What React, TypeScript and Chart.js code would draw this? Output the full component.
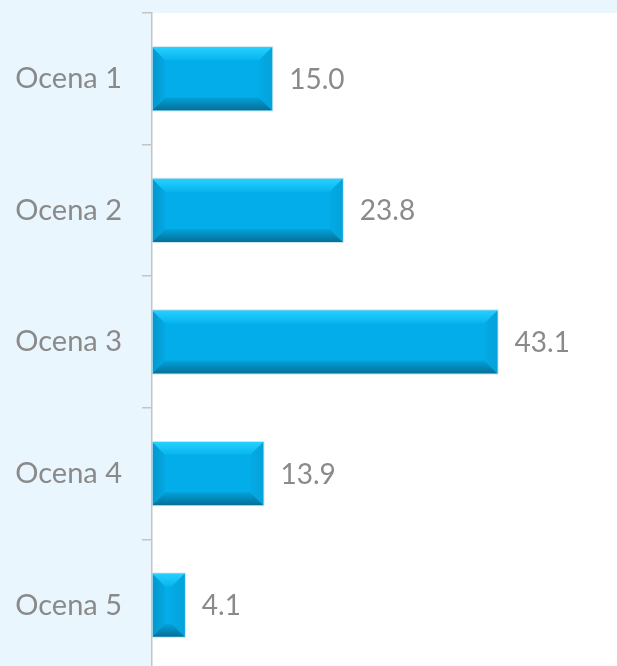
import React, { useEffect, useRef } from "react";
import { Chart, registerables } from "chart.js";

Chart.register(...registerables);

const categories = ["Ocena 1", "Ocena 2", "Ocena 3", "Ocena 4", "Ocena 5"];
const values = [15.0, 23.8, 43.1, 13.9, 4.1];

const FONT = "Lato, 'Noto Sans', sans-serif";
const GRAY = "#8a8a8a";

const bgPlugin = {
  id: "bgPlugin",
  beforeDraw(chart: any) {
    const { ctx, chartArea, width, height } = chart;
    ctx.save();
    ctx.fillStyle = "#EAF6FD";
    ctx.fillRect(0, 0, width, height);
    ctx.fillStyle = "#ffffff";
    ctx.fillRect(chartArea.left, chartArea.top, chartArea.right - chartArea.left, chartArea.bottom - chartArea.top);
    ctx.restore();
  },
};

const bevelPlugin = {
  id: "bevelPlugin",
  afterDatasetsDraw(chart: any) {
    const { ctx } = chart;
    const meta = chart.getDatasetMeta(0);
    ctx.save();
    meta.data.forEach((bar: any, i: number) => {
      const L = Math.min(bar.base, bar.x);
      const R = Math.max(bar.base, bar.x);
      const T = bar.y - bar.height / 2;
      const B = bar.y + bar.height / 2;
      const w = R - L;
      const b = Math.min(13, w / 2, bar.height / 2);
      const poly = (pts: number[][], fill: any) => {
        ctx.beginPath();
        ctx.moveTo(pts[0][0], pts[0][1]);
        for (let k = 1; k < pts.length; k++) ctx.lineTo(pts[k][0], pts[k][1]);
        ctx.closePath();
        ctx.fillStyle = fill;
        ctx.fill();
      };
      poly([[L, T], [R, T], [R, B], [L, B]], "#02ADEA");
      const gt = ctx.createLinearGradient(0, T, 0, T + b);
      gt.addColorStop(0, "#26D0FF");
      gt.addColorStop(1, "#06B4EE");
      poly([[L, T], [R, T], [R - b, T + b], [L + b, T + b]], gt);
      const gb = ctx.createLinearGradient(0, B - b, 0, B);
      gb.addColorStop(0, "#03A2DA");
      gb.addColorStop(1, "#056F96");
      poly([[L, B], [R, B], [R - b, B - b], [L + b, B - b]], gb);
      const gl = ctx.createLinearGradient(L, 0, L + b, 0);
      gl.addColorStop(0, "#0397CD");
      gl.addColorStop(1, "#04A8E2");
      poly([[L, T], [L + b, T + b], [L + b, B - b], [L, B]], gl);
      const gr = ctx.createLinearGradient(R - b, 0, R, 0);
      gr.addColorStop(0, "#04AAE4");
      gr.addColorStop(1, "#05A2DA");
      poly([[R, T], [R - b, T + b], [R - b, B - b], [R, B]], gr);
      ctx.strokeStyle = "rgba(190,220,235,0.8)";
      ctx.lineWidth = 1;
      ctx.strokeRect(L + 0.5, T - 0.5, w, bar.height + 1);
      ctx.fillStyle = GRAY;
      ctx.font = `28px ${FONT}`;
      ctx.textAlign = "left";
      ctx.textBaseline = "middle";
      ctx.fillText(values[i].toFixed(1), R + 17, bar.y + 1);
    });
    ctx.restore();
  },
};

export default function App() {
  const ref = useRef<HTMLCanvasElement>(null);
  useEffect(() => {
    if (!ref.current) return;
    const chart = new Chart(ref.current, {
      type: "bar",
      data: {
        labels: categories,
        datasets: [
          {
            data: values,
            backgroundColor: "#02ADEA",
            borderWidth: 0,
            categoryPercentage: 1,
            barPercentage: 0.48,
          },
        ],
      },
      options: {
        indexAxis: "y",
        animation: false,
        responsive: false,
        devicePixelRatio: 1,
        layout: { padding: { top: 13, bottom: 9, right: 0, left: 0 } },
        plugins: { legend: { display: false }, tooltip: { enabled: false } },
        scales: {
          x: { display: false, min: 0, max: 58 },
          y: {
            afterFit: (scale: any) => {
              scale.width = 152;
              scale.paddingTop = 0;
              scale.paddingBottom = 0;
            },
            border: { display: true, color: "#C4C4C4", width: 1.5 },
            grid: {
              display: true,
              drawOnChartArea: false,
              drawTicks: true,
              tickLength: 10,
              color: "#C4C4C4",
              lineWidth: 1.5,
              offset: true,
            },
            ticks: {
              color: GRAY,
              padding: 20,
              font: { family: FONT, size: 29 },
            },
          },
        },
      },
      plugins: [bgPlugin, bevelPlugin],
    });
    return () => chart.destroy();
  }, []);
  return (
    <div style={{ position: "absolute", left: 0, top: 0, width: 617, height: 680, overflow: "hidden" }}>
      <canvas ref={ref} width={617} height={680} style={{ display: "block" }} />
    </div>
  );
}
